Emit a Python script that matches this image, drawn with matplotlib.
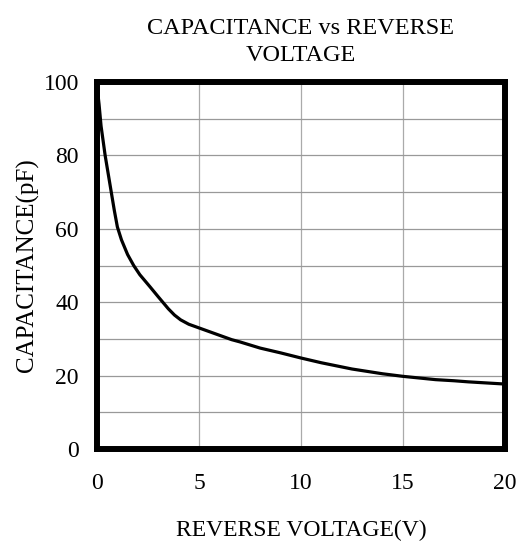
import matplotlib
matplotlib.use("Agg")
from matplotlib import pyplot as plt

# values
voltage = [0, 0.1, 0.2, 0.3, 0.4, 0.55, 0.7, 0.85, 1.0, 1.2, 1.5, 1.8, 2.1, 2.6, 3.0, 3.5, 3.8, 4.1, 4.5,
           5, 5.5, 6, 6.6, 7, 8, 9, 10, 11, 12.5, 14, 15, 16.6, 17.5, 18.2, 20]
capacitance = [99, 94, 88, 84, 80, 75, 70, 65, 60.5, 57, 53, 50, 47.5, 44.2, 41.5, 38.2, 36.5, 35.2, 34,
               33, 32, 31, 29.8, 29.2, 27.5, 26.2, 24.8, 23.5, 21.8, 20.5, 19.8, 18.9, 18.6, 18.3, 17.7]

x_ticks = [0, 5, 10, 15, 20]
y_ticks = [0, 20, 40, 60, 80, 100]
y_grid = [10, 20, 30, 40, 50, 60, 70, 80, 90]

plt.rcParams["font.family"] = ["Liberation Serif", "DejaVu Serif"]

fig = plt.figure(figsize=(5.17, 5.42), dpi=100)
ax = fig.add_axes([0.1876, 0.1716, 0.789, 0.677])

ax.plot(voltage, capacitance, color="black", linewidth=2.3, zorder=3,
        solid_joinstyle="round")

ax.set_xlim(0, 20)
ax.set_ylim(0, 100)
ax.set_xticks(x_ticks)
ax.set_yticks(y_ticks)
ax.tick_params(axis="both", which="both", length=0, labelsize=17)
ax.tick_params(axis="x", pad=17)
ax.tick_params(axis="y", pad=13)

for v in x_ticks[1:-1]:
    ax.axvline(v, color="#aaaaaa", linewidth=0.9, zorder=1)
for c in y_grid:
    ax.axhline(c, color="#999999", linewidth=0.9, zorder=1)

for s in ax.spines.values():
    s.set_linewidth(4.3)
    s.set_color("black")

ax.set_title("CAPACITANCE vs REVERSE\nVOLTAGE", fontsize=17.5, pad=15, linespacing=1.4)
ax.set_xlabel("REVERSE VOLTAGE(V)", fontsize=17, labelpad=19)
ax.set_ylabel("CAPACITANCE(pF)", fontsize=18, labelpad=3)

fig.savefig("out.png", dpi=100)
